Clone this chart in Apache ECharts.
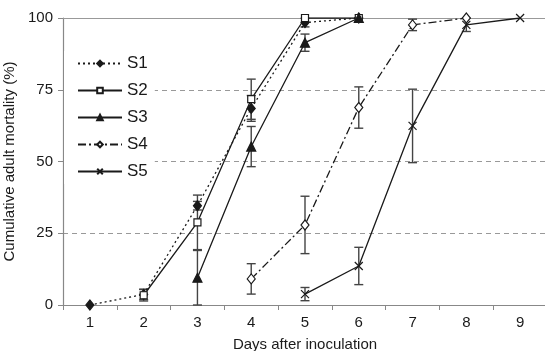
<!DOCTYPE html>
<html>
<head>
<meta charset="utf-8">
<script src="https://cdn.jsdelivr.net/npm/echarts@6/dist/echarts.min.js"></script>
<style>
  html, body { margin: 0; padding: 0; background: #fff; }
  #chart { width: 545px; height: 351px; }
</style>
</head>
<body>
<div id="chart"></div>
<script>
const days = ['1', '2', '3', '4', '5', '6', '7', '8', '9'];
const yTicks = [0, 25, 50, 75, 100];

// mean cumulative mortality (%) per strain, with +/- error
const s1 = [0, 3.7, 34.6, 68.5, 98.4, 100, null, null, null];
const s1Err = [0, 1.8, 1.5, 4.5, 1.5, 0, null, null, null];
const s2 = [null, 3.4, 28.8, 71.7, 100, 100, null, null, null];
const s2Err = [null, 2, 9.5, 7, 0, 0, null, null, null];
const s3 = [null, null, 9.5, 55.2, 91.4, 100, null, null, null];
const s3Err = [null, null, 9.5, 7, 3, 0, null, null, null];
const s4 = [null, null, null, 9.1, 27.9, 68.8, 97.6, 100, null];
const s4Err = [null, null, null, 5.3, 10, 7.2, 2, 0, null];
const s5 = [null, null, null, null, 3.8, 13.6, 62.4, 97.6, 100];
const s5Err = [null, null, null, null, 2.3, 6.5, 12.8, 2.3, 0];

const font = 'Liberation Sans, Arial, sans-serif';
const ink = '#1a1a1a';

function errData(vals, errs) {
  const out = [];
  vals.forEach((v, i) => {
    if (v == null || !errs[i]) return;
    out.push([i, v - errs[i], v + errs[i]]);
  });
  return out;
}

function errSeries(vals, errs) {
  return {
    type: 'custom',
    silent: true,
    z: 1,
    data: errData(vals, errs),
    renderItem: (params, api) => {
      const lo = api.coord([api.value(0), Math.max(0, api.value(1))]);
      const hi = api.coord([api.value(0), api.value(2)]);
      const w = 4.5;
      const style = { stroke: '#444', lineWidth: 1.4, fill: null };
      return {
        type: 'group',
        children: [
          { type: 'line', shape: { x1: lo[0], y1: lo[1], x2: hi[0], y2: hi[1] }, style },
          { type: 'line', shape: { x1: lo[0] - w, y1: lo[1], x2: lo[0] + w, y2: lo[1] }, style },
          { type: 'line', shape: { x1: hi[0] - w, y1: hi[1], x2: hi[0] + w, y2: hi[1] }, style }
        ]
      };
    }
  };
}

function lineSeries(name, vals, dash, symbol, size, fill) {
  return {
    name,
    type: 'line',
    data: vals,
    z: 3,
    symbol,
    symbolSize: size,
    showAllSymbol: true,
    connectNulls: false,
    lineStyle: { color: ink, width: 1.3, type: dash },
    itemStyle: { color: fill, borderColor: ink, borderWidth: 1.2 },
    emphasis: { disabled: true }
  };
}

const chart = echarts.init(document.getElementById('chart'));
chart.setOption({
  animation: false,
  backgroundColor: '#fff',
  grid: { left: 63, top: 18, width: 484, height: 287, outerBoundsMode: 'none', containLabel: false },
  legend: {
    data: ['S1', 'S2', 'S3', 'S4', 'S5'],
    orient: 'vertical',
    left: 64,
    top: 51,
    itemWidth: 44,
    itemHeight: 7,
    itemGap: 10,
    backgroundColor: '#fff',
    padding: [4, 7, 4, 13],
    textStyle: { fontFamily: font, fontSize: 17, color: ink }
  },
  xAxis: [{
    type: 'category',
    data: days,
    boundaryGap: true,
    name: 'Days after inoculation',
    nameLocation: 'middle',
    nameGap: 32,
    nameTextStyle: { fontFamily: font, fontSize: 15, color: ink },
    axisLine: { lineStyle: { color: '#888', width: 1.2 } },
    axisTick: { show: true, length: 5, lineStyle: { color: '#888' } },
    axisLabel: { fontFamily: font, fontSize: 15, color: ink, margin: 10 }
  }, {
    type: 'category',
    data: days,
    position: 'top',
    axisLine: { show: true, lineStyle: { color: '#999', width: 1.2 } },
    axisTick: { show: false },
    axisLabel: { show: false }
  }],
  yAxis: {
    type: 'value',
    min: yTicks[0],
    max: yTicks[yTicks.length - 1],
    interval: 25,
    name: 'Cumulative adult mortality (%)',
    nameLocation: 'middle',
    nameGap: 39,
    nameTextStyle: { fontFamily: font, fontSize: 15, color: ink },
    axisLine: { show: true, lineStyle: { color: '#888', width: 1.2 } },
    axisTick: { show: true, length: 5, lineStyle: { color: '#888' } },
    axisLabel: { fontFamily: font, fontSize: 15, color: ink, margin: 10 },
    splitLine: { show: true, lineStyle: { color: '#999', type: [5, 4], width: 1 } }
  },
  series: [
    errSeries(s1, s1Err),
    errSeries(s2, s2Err),
    errSeries(s3, s3Err),
    errSeries(s4, s4Err),
    errSeries(s5, s5Err),
    lineSeries('S1', s1, [2, 3], 'diamond', [8, 10], ink),
    lineSeries('S2', s2, 'solid', 'rect', 7, '#fff'),
    lineSeries('S3', s3, 'solid', 'triangle', 9, ink),
    lineSeries('S4', s4, [8, 3, 2, 3], 'diamond', [8, 10], '#fff'),
    lineSeries('S5', s5, 'solid', 'path://M0,0L10,10M10,0L0,10', 8, 'none')
  ]
});
</script>
</body>
</html>
